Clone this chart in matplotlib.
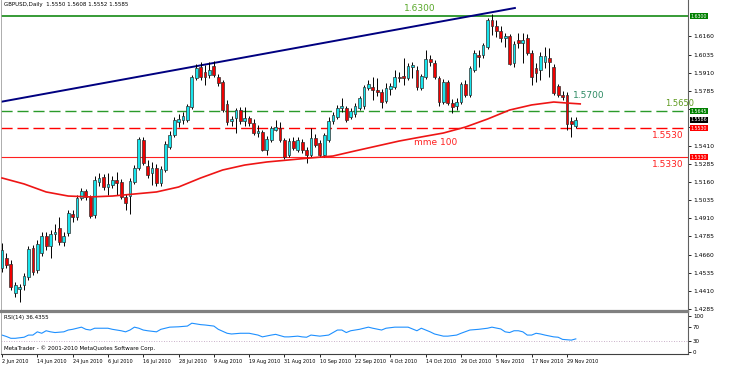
import matplotlib
matplotlib.use("Agg")
import matplotlib.pyplot as plt
import matplotlib.transforms as mtransforms

# GBPUSD daily candles, 2 Jun 2010 .. 1 Dec 2010
opens = [1.4569, 1.4637, 1.4596, 1.4397, 1.4425, 1.4452, 1.4507, 1.4706, 1.4555, 1.4672,
         1.4789, 1.4720, 1.4802, 1.4844, 1.4747, 1.4809, 1.4940, 1.4919, 1.5050, 1.5098,
         1.5057, 1.4933, 1.5160, 1.5194, 1.5125, 1.5139, 1.5173, 1.5160, 1.5057, 1.5063,
         1.5160, 1.5256, 1.5448, 1.5270, 1.5221, 1.5256, 1.5153, 1.5242, 1.5400, 1.5483,
         1.5572, 1.5586, 1.5586, 1.5675, 1.5874, 1.5950, 1.5915, 1.5895, 1.5957, 1.5881,
         1.5847, 1.5696, 1.5579, 1.5599, 1.5654, 1.5579, 1.5599, 1.5565, 1.5496, 1.5503,
         1.5379, 1.5448, 1.5517, 1.5531, 1.5448, 1.5345, 1.5441, 1.5379, 1.5434, 1.5379,
         1.5345, 1.5462, 1.5428, 1.5345, 1.5448, 1.5579, 1.5606, 1.5668, 1.5668, 1.5606,
         1.5627, 1.5668, 1.5682, 1.5805, 1.5812, 1.5792, 1.5778, 1.5716, 1.5799, 1.5812,
         1.5881, 1.5888, 1.5874, 1.5950, 1.5929, 1.5805, 1.5881, 1.6005, 1.5977, 1.5874,
         1.5709, 1.5847, 1.5702, 1.5682, 1.5709, 1.5833, 1.5757, 1.5929, 1.6032, 1.6032,
         1.6087, 1.6273, 1.6231, 1.6197, 1.6149, 1.6163, 1.5977, 1.6135, 1.6115, 1.6149,
         1.6046, 1.5943, 1.5929, 1.5984, 1.6012, 1.5950, 1.5819, 1.5757, 1.5757, 1.5579,
         1.5544]
highs = [1.4741, 1.4672, 1.4624, 1.4473, 1.4459, 1.4534, 1.4720, 1.4727, 1.4761, 1.4816,
         1.4816, 1.4830, 1.4871, 1.4919, 1.4816, 1.4967, 1.4967, 1.5070, 1.5118, 1.5112,
         1.5070, 1.5201, 1.5221, 1.5215, 1.5221, 1.5201, 1.5228, 1.5180, 1.5077, 1.5187,
         1.5276, 1.5469, 1.5469, 1.5311, 1.5297, 1.5283, 1.5270, 1.5441, 1.5510, 1.5606,
         1.5627, 1.5641, 1.5696, 1.5895, 1.5970, 1.5984, 1.5963, 1.5984, 1.5991, 1.5902,
         1.5860, 1.5723, 1.5613, 1.5668, 1.5675, 1.5675, 1.5613, 1.5592, 1.5551, 1.5517,
         1.5476, 1.5544, 1.5586, 1.5572, 1.5462, 1.5462, 1.5469, 1.5469, 1.5455, 1.5400,
         1.5531, 1.5489, 1.5448, 1.5496, 1.5606, 1.5641, 1.5689, 1.5737, 1.5682, 1.5668,
         1.5702, 1.5751, 1.5826, 1.5860, 1.5881, 1.5874, 1.5799, 1.5840, 1.5840, 1.5929,
         1.5915, 1.6012, 1.5977, 1.5984, 1.5957, 1.5902, 1.6066, 1.6032, 1.5998, 1.5888,
         1.5867, 1.5860, 1.5730, 1.5737, 1.5847, 1.5860, 1.5957, 1.6066, 1.6066, 1.6115,
         1.6286, 1.6314, 1.6273, 1.6231, 1.6183, 1.6176, 1.6128, 1.6183, 1.6183, 1.6176,
         1.6066, 1.5977, 1.6053, 1.6087, 1.6080, 1.5970, 1.5833, 1.5785, 1.5778, 1.5606,
         1.5606]
lows = [1.4541, 1.4569, 1.4418, 1.4370, 1.4335, 1.4418, 1.4486, 1.4521, 1.4534, 1.4651,
        1.4692, 1.4637, 1.4761, 1.4727, 1.4720, 1.4789, 1.4885, 1.4898, 1.5036, 1.5036,
        1.4912, 1.4912, 1.5132, 1.5105, 1.5070, 1.5118, 1.5070, 1.5043, 1.4967, 1.4940,
        1.5146, 1.5242, 1.5276, 1.5187, 1.5139, 1.5132, 1.5132, 1.5228, 1.5386, 1.5469,
        1.5537, 1.5558, 1.5572, 1.5661, 1.5860, 1.5860, 1.5826, 1.5874, 1.5881, 1.5819,
        1.5641, 1.5551, 1.5544, 1.5496, 1.5558, 1.5544, 1.5544, 1.5483, 1.5469, 1.5373,
        1.5345, 1.5434, 1.5510, 1.5434, 1.5318, 1.5331, 1.5379, 1.5366, 1.5359, 1.5290,
        1.5331, 1.5400, 1.5331, 1.5331, 1.5434, 1.5558, 1.5592, 1.5641, 1.5572, 1.5592,
        1.5606, 1.5654, 1.5661, 1.5792, 1.5723, 1.5751, 1.5668, 1.5702, 1.5757, 1.5799,
        1.5847, 1.5826, 1.5860, 1.5874, 1.5792, 1.5792, 1.5867, 1.5957, 1.5867, 1.5682,
        1.5696, 1.5689, 1.5634, 1.5654, 1.5696, 1.5744, 1.5744, 1.5915, 1.5950, 1.6012,
        1.6073, 1.6170, 1.6156, 1.6121, 1.6087, 1.5963, 1.5950, 1.6080, 1.5977, 1.6032,
        1.5826, 1.5847, 1.5860, 1.5943, 1.5881, 1.5757, 1.5744, 1.5723, 1.5517, 1.5469,
        1.5531]
closes = [1.4692, 1.4590, 1.4438, 1.4452, 1.4438, 1.4514, 1.4699, 1.4541, 1.4734, 1.4789,
          1.4720, 1.4802, 1.4816, 1.4747, 1.4789, 1.4947, 1.4919, 1.5050, 1.5098, 1.5057,
          1.4926, 1.5173, 1.5187, 1.5125, 1.5146, 1.5173, 1.5153, 1.5057, 1.5015, 1.5166,
          1.5256, 1.5455, 1.5290, 1.5208, 1.5256, 1.5153, 1.5249, 1.5421, 1.5483, 1.5586,
          1.5592, 1.5613, 1.5682, 1.5881, 1.5943, 1.5881, 1.5881, 1.5929, 1.5895, 1.5840,
          1.5654, 1.5572, 1.5592, 1.5654, 1.5579, 1.5599, 1.5565, 1.5496, 1.5510, 1.5379,
          1.5455, 1.5531, 1.5537, 1.5448, 1.5331, 1.5441, 1.5393, 1.5448, 1.5379, 1.5345,
          1.5462, 1.5414, 1.5345, 1.5483, 1.5579, 1.5620, 1.5668, 1.5682, 1.5586, 1.5647,
          1.5682, 1.5737, 1.5812, 1.5833, 1.5792, 1.5778, 1.5709, 1.5805, 1.5819, 1.5881,
          1.5874, 1.5874, 1.5957, 1.5963, 1.5812, 1.5888, 1.6005, 1.5984, 1.5881, 1.5709,
          1.5847, 1.5702, 1.5675, 1.5709, 1.5833, 1.5757, 1.5943, 1.6046, 1.6018, 1.6101,
          1.6273, 1.6231, 1.6197, 1.6149, 1.6163, 1.5970, 1.6108, 1.6115, 1.6135, 1.6046,
          1.5881, 1.5909, 1.6025, 1.6025, 1.5984, 1.5771, 1.5757, 1.5744, 1.5558, 1.5558,
          1.5586]

# moving average 100 (read at some bars)
ma_idx = [0, 5, 10, 15, 20, 25, 30, 35, 40, 45, 50, 55, 60, 65, 70, 75, 80, 85, 90, 95,
          100, 105, 110, 115, 120, 125, 128, 131]
ma_val = [1.5187, 1.5146, 1.5091, 1.5063, 1.5057, 1.5063, 1.5077, 1.5091, 1.5125, 1.5187,
          1.5242, 1.5276, 1.5297, 1.5311, 1.5325, 1.5338, 1.5373, 1.5407, 1.5441, 1.5469,
          1.5496, 1.5537, 1.5592, 1.5654, 1.5689, 1.5709, 1.5702, 1.5696]

# RSI(14)
rsi_idx = [0, 1, 2, 3, 5, 6, 7, 8, 9, 10, 11, 12, 14, 15, 16, 17, 18, 19, 20, 21,
           24, 25, 27, 28, 29, 30, 31, 32, 33, 35, 36, 38, 40, 42, 43, 44, 45, 46, 48, 49,
           51, 52, 54, 56, 58, 59, 61, 62, 64, 65, 67, 68, 69, 70, 72, 74, 75, 76, 77, 78,
           79, 81, 83, 84, 86, 87, 89, 92, 94, 95, 97, 98, 100, 101, 103, 104, 106, 108, 110, 111,
           113, 114, 115, 116, 117, 118, 119, 120, 121, 122, 123, 125, 126, 127, 129, 130]
rsi_val = [47, 43, 38, 38, 41, 47, 47, 56, 52, 59, 56, 54, 56, 61, 63, 66, 69, 63, 61, 66,
           66, 63, 59, 56, 61, 69, 66, 61, 59, 56, 63, 69, 70, 72, 80, 78, 76, 75, 72, 63,
           52, 50, 52, 52, 47, 42, 47, 49, 42, 42, 44, 42, 41, 47, 44, 47, 54, 61, 61, 54,
           59, 63, 69, 66, 61, 66, 69, 69, 59, 66, 56, 50, 44, 44, 47, 52, 61, 63, 66, 69,
           64, 56, 54, 59, 59, 56, 47, 47, 52, 50, 47, 42, 41, 35, 33, 36.4]

date_labels = ['2 Jun 2010', '14 Jun 2010', '24 Jun 2010', '6 Jul 2010', '16 Jul 2010',
               '28 Jul 2010', '9 Aug 2010', '19 Aug 2010', '31 Aug 2010', '10 Sep 2010',
               '22 Sep 2010', '4 Oct 2010', '14 Oct 2010', '26 Oct 2010', '5 Nov 2010',
               '17 Nov 2010', '29 Nov 2010']
date_idx = [0, 8, 16, 24, 32, 40, 48, 56, 64, 72, 80, 88, 96, 104, 112, 120, 128]

price_ticks = [1.6160, 1.6035, 1.5910, 1.5785, 1.5660, 1.5535, 1.5410, 1.5285,
               1.5160, 1.5035, 1.4910, 1.4785, 1.4660, 1.4535, 1.4410, 1.4285]
# tick labels hidden behind the price boxes on the scale
hidden_ticks = [1.5660, 1.5535]

trend_idx = [-0.5, 116.2]
trend_val = [1.5709, 1.6355]

lvl_top = 1.6300
lvl_green = 1.5645
lvl_red_dash = 1.5530
lvl_red = 1.5330

fig = plt.figure(figsize=(7.5, 3.65), dpi=100)
ax = fig.add_axes([1 / 750, 1 - 311 / 365, 687 / 750, 311 / 365])
rsi = fig.add_axes([1 / 750, 1 - 354 / 365, 687 / 750, 42 / 365], sharex=ax)

# candles
idx = list(range(len(opens)))
bottoms = [min(o, c) for o, c in zip(opens, closes)]
heights = [max(abs(c - o), 0.00035) for o, c in zip(opens, closes)]
colors = ['#18e4ec' if c >= o else '#f00000' for o, c in zip(opens, closes)]
ax.vlines(idx, lows, highs, color='black', lw=0.7, zorder=3)
ax.bar(idx, heights, width=0.62, bottom=bottoms, color=colors,
       edgecolor='#303030', linewidth=0.5, zorder=4)

# levels
ax.axhline(lvl_top, color='#008000', lw=1.1, zorder=2)
ax.axhline(lvl_green, color='#2a9a2a', lw=1.0, ls=(0, (8, 3.5)), zorder=2)
ax.axhline(lvl_red_dash, color='#ff0000', lw=1.0, ls=(0, (8, 3.5)), zorder=2)
ax.axhline(lvl_red, color='#ff2020', lw=0.8, zorder=2)
ax.plot(trend_idx, trend_val, color='#000080', lw=1.4, zorder=2)
ax.plot(ma_idx, ma_val, color='#ee1515', lw=1.2, zorder=5)

# annotations
ax.text(94.7, 1.6355, '1.6300', color='#58a828', fontsize=6.5, ha='center', va='center')
ax.text(129.4, 1.5757, '1.5700', color='#2e8b64', fontsize=6.5, ha='left', va='center')
ax.text(150.2, 1.5696, '1.5650', color='#5f9a20', fontsize=6, ha='left', va='center')
ax.text(147.3, 1.5476, '1.5530', color='#ff2020', fontsize=6.5, ha='left', va='center')
ax.text(147.3, 1.5283, '1.5330', color='#ff2020', fontsize=6.5, ha='left', va='center')
ax.text(93.3, 1.5434, 'mme 100', color='#ff2020', fontsize=6.5, ha='left', va='center')
ax.text(0.004, 0.984, 'GBPUSD,Daily  1.5550 1.5608 1.5552 1.5585', transform=ax.transAxes,
        fontsize=4, ha='left', va='center')

ax.set_xlim(-0.227, 155.42)
ax.set_ylim(1.4273, 1.6410)
ax.yaxis.tick_right()
ax.set_yticks(price_ticks)
ax.set_yticklabels(['' if v in hidden_ticks else '%.4f' % v for v in price_ticks])
ax.tick_params(axis='y', length=2, width=0.6, labelsize=4.3, pad=1.5)
ax.tick_params(axis='x', bottom=False, labelbottom=False)
ax.spines['top'].set_visible(False)
ax.spines['left'].set_color('#a0a0a0')
ax.spines['left'].set_linewidth(0.6)
ax.spines['right'].set_color('#606060')
ax.spines['right'].set_linewidth(0.8)
ax.spines['bottom'].set_color('#808080')
ax.spines['bottom'].set_linewidth(1.6)

# price boxes on the right scale
trans = mtransforms.blended_transform_factory(ax.transAxes, ax.transData)
boxes = [(lvl_top, '#008000'), (lvl_green, '#008000'), (closes[-1], 'black'),
         (lvl_red_dash, '#ff0000'), (lvl_red, '#ff0000')]
for val, col in boxes:
    ax.text(1.004, val, '%.4f' % val, transform=trans, fontsize=3.4, color='white',
            ha='left', va='center', clip_on=False,
            bbox=dict(boxstyle='square,pad=0.1', fc=col, ec='none'))

# RSI panel
rsi.plot(rsi_idx, rsi_val, color='#1e90ff', lw=0.8)
rsi.axhline(30, color='#b898b8', lw=0.6, ls=(0, (1, 2)))
rsi.set_ylim(-5.6, 111.1)
rsi.yaxis.tick_right()
rsi.set_yticks([0, 30, 70, 100])
rsi.set_yticklabels(['0', '30', '70', '100'])
rsi.tick_params(axis='y', length=2, width=0.6, labelsize=4, pad=1.5)
rsi.set_xticks(date_idx)
rsi.set_xticklabels(date_labels, ha='left')
rsi.tick_params(axis='x', length=2, width=0.6, labelsize=3.5, pad=1.5)
rsi.spines['top'].set_color('#808080')
rsi.spines['top'].set_linewidth(1.6)
rsi.spines['left'].set_color('#a0a0a0')
rsi.spines['left'].set_linewidth(0.6)
rsi.spines['right'].set_color('#606060')
rsi.spines['right'].set_linewidth(0.8)
rsi.spines['bottom'].set_color('#404040')
rsi.spines['bottom'].set_linewidth(0.8)
rsi.text(0.004, 0.86, 'RSI(14) 36.4355', transform=rsi.transAxes, fontsize=4,
         ha='left', va='center')
rsi.text(0.004, 0.13, 'MetaTrader - \u00a9 2001-2010 MetaQuotes Software Corp.',
         transform=rsi.transAxes, fontsize=4, ha='left', va='center')

fig.savefig('out.png', dpi=100)
